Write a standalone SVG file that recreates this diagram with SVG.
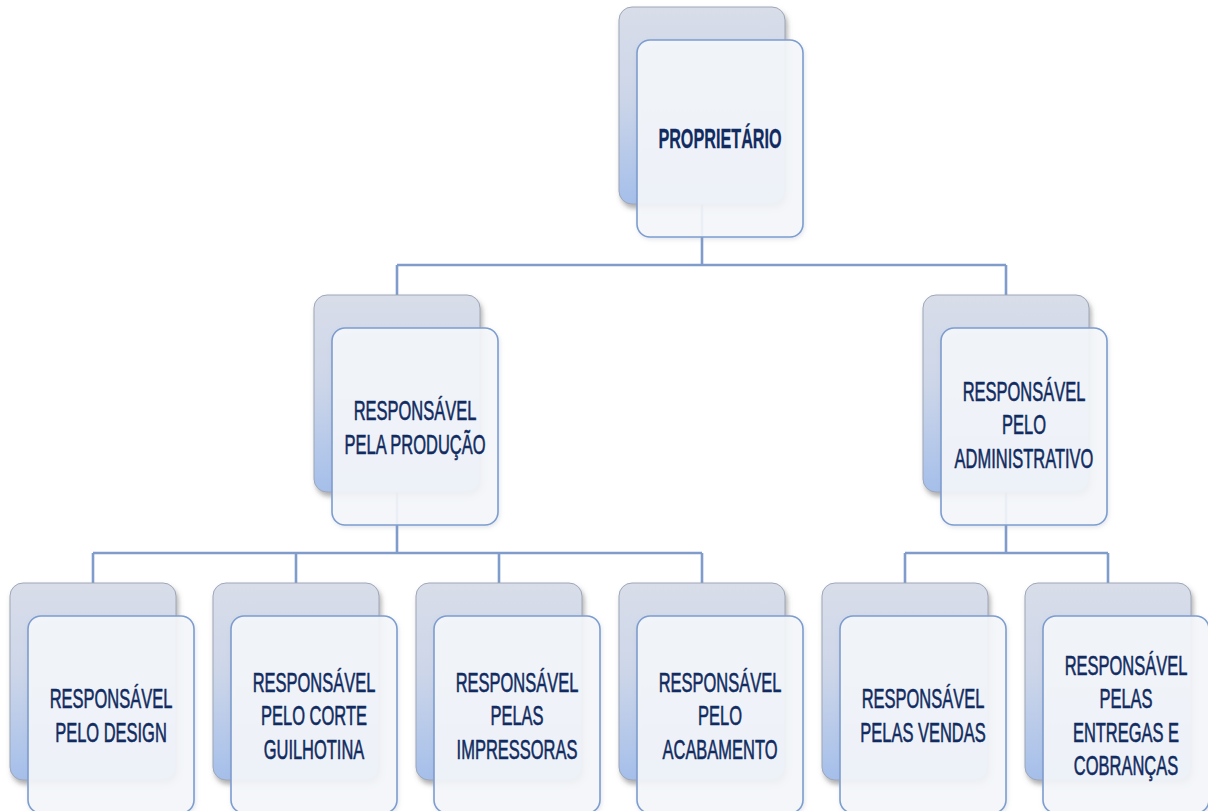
<svg xmlns="http://www.w3.org/2000/svg" width="1208" height="811" viewBox="0 0 1208 811">
  <defs>
    <linearGradient id="backFill" x1="0" y1="0" x2="0" y2="1">
      <stop offset="0" stop-color="#d8dde9"/>
      <stop offset="0.45" stop-color="#cdd6e9"/>
      <stop offset="1" stop-color="#a5bfea"/>
    </linearGradient>
    <filter id="shadow" x="-10%" y="-10%" width="130%" height="130%">
      <feDropShadow dx="2" dy="4" stdDeviation="2.5" flood-color="#5e5e5e" flood-opacity="0.5"/>
    </filter>
    <filter id="softShadow" x="-10%" y="-10%" width="130%" height="130%">
      <feDropShadow dx="1" dy="2" stdDeviation="2" flood-color="#8a96ad" flood-opacity="0.25"/>
    </filter>
  </defs>
  <style>
    .back { fill: url(#backFill); stroke: #9ea6b6; stroke-width: 1; filter: url(#shadow); }
    .front { fill: #f5f7fb; fill-opacity: 0.9; stroke: #7d9dcf; stroke-width: 1.6; filter: url(#softShadow); }
    .link { fill: none; stroke: #7f9ccb; stroke-width: 2.6; }
    .lbl { font-family: "Liberation Sans", Arial, sans-serif; font-size: 27px; fill: #112b60; stroke: #112b60; stroke-width: 0.6; text-anchor: middle; }
    .bold { font-weight: bold; stroke-width: 0.3; }
  </style>

  <rect width="1208" height="811" fill="#ffffff"/>

  <!-- connectors (drawn beneath the cards) -->
  <g id="connectors">
    <path class="link" d="M702 204 V265 M397 265 H1006 M397 265 V295 M1006 265 V295"/>
    <path class="link" d="M397 492 V553 M93 553 H702 M93 553 V583 M296 553 V583 M499 553 V583 M702 553 V583"/>
    <path class="link" d="M1006 492 V553 M905 553 H1108 M905 553 V583 M1108 553 V583"/>
  </g>

  <!-- level 1 -->
  <g id="proprietario">
    <rect class="back" x="619" y="7" width="166" height="197" rx="13"/>
    <rect class="front" x="637" y="40" width="166" height="197" rx="13"/>
    <text class="lbl bold" transform="translate(720 148) scale(0.6 1)"><tspan x="0">PROPRIETÁRIO</tspan></text>
  </g>

  <!-- level 2 -->
  <g id="producao">
    <rect class="back" x="314" y="295" width="166" height="197" rx="13"/>
    <rect class="front" x="332" y="328" width="166" height="197" rx="13"/>
    <text class="lbl" transform="translate(415 420) scale(0.61 1)"><tspan x="0">RESPONSÁVEL</tspan><tspan x="0" dy="34">PELA PRODUÇÃO</tspan></text>
  </g>

  <g id="administrativo">
    <rect class="back" x="923" y="295" width="166" height="197" rx="13"/>
    <rect class="front" x="941" y="328" width="166" height="197" rx="13"/>
    <text class="lbl" transform="translate(1024 401) scale(0.61 1)"><tspan x="0">RESPONSÁVEL</tspan><tspan x="0" dy="33.5">PELO</tspan><tspan x="0" dy="33.5">ADMINISTRATIVO</tspan></text>
  </g>

  <!-- level 3 -->
  <g id="design">
    <rect class="back" x="10" y="583" width="166" height="197" rx="13"/>
    <rect class="front" x="28" y="616" width="166" height="197" rx="13"/>
    <text class="lbl" transform="translate(111 708) scale(0.61 1)"><tspan x="0">RESPONSÁVEL</tspan><tspan x="0" dy="34">PELO DESIGN</tspan></text>
  </g>

  <g id="corte">
    <rect class="back" x="213" y="583" width="166" height="197" rx="13"/>
    <rect class="front" x="231" y="616" width="166" height="197" rx="13"/>
    <text class="lbl" transform="translate(314 692) scale(0.61 1)"><tspan x="0">RESPONSÁVEL</tspan><tspan x="0" dy="33.5">PELO CORTE</tspan><tspan x="0" dy="33.5">GUILHOTINA</tspan></text>
  </g>

  <g id="impressoras">
    <rect class="back" x="416" y="583" width="166" height="197" rx="13"/>
    <rect class="front" x="434" y="616" width="166" height="197" rx="13"/>
    <text class="lbl" transform="translate(517 692) scale(0.61 1)"><tspan x="0">RESPONSÁVEL</tspan><tspan x="0" dy="33.5">PELAS</tspan><tspan x="0" dy="33.5">IMPRESSORAS</tspan></text>
  </g>

  <g id="acabamento">
    <rect class="back" x="619" y="583" width="166" height="197" rx="13"/>
    <rect class="front" x="637" y="616" width="166" height="197" rx="13"/>
    <text class="lbl" transform="translate(720 692) scale(0.61 1)"><tspan x="0">RESPONSÁVEL</tspan><tspan x="0" dy="33.5">PELO</tspan><tspan x="0" dy="33.5">ACABAMENTO</tspan></text>
  </g>

  <g id="vendas">
    <rect class="back" x="822" y="583" width="166" height="197" rx="13"/>
    <rect class="front" x="840" y="616" width="166" height="197" rx="13"/>
    <text class="lbl" transform="translate(923 708) scale(0.61 1)"><tspan x="0">RESPONSÁVEL</tspan><tspan x="0" dy="34">PELAS VENDAS</tspan></text>
  </g>

  <g id="entregas">
    <rect class="back" x="1025" y="583" width="166" height="197" rx="13"/>
    <rect class="front" x="1043" y="616" width="166" height="197" rx="13"/>
    <text class="lbl" transform="translate(1126 675) scale(0.61 1)"><tspan x="0">RESPONSÁVEL</tspan><tspan x="0" dy="33.5">PELAS</tspan><tspan x="0" dy="33.5">ENTREGAS E</tspan><tspan x="0" dy="33.5">COBRANÇAS</tspan></text>
  </g>
</svg>
